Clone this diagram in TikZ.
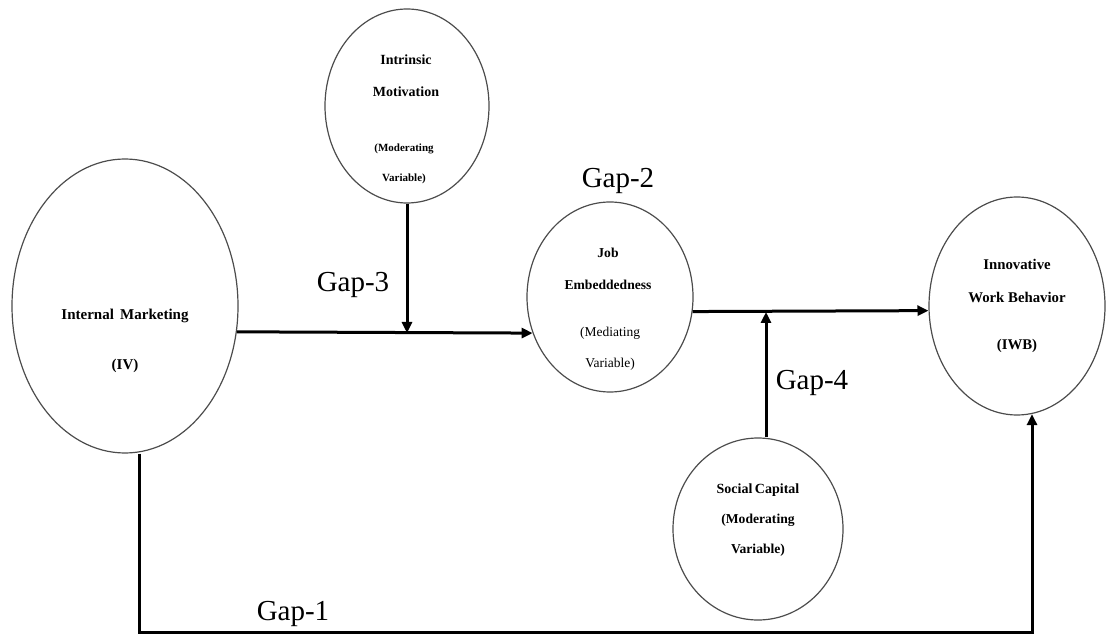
\documentclass[tikz,border=0pt]{standalone}
\usepackage{fontspec}
\setmainfont{Liberation Serif}
\usetikzlibrary{shapes.geometric,arrows.meta}
\tikzset{
  ell/.style={draw=black!70, line width=1.2pt, ellipse, inner sep=0pt},
  arr/.style={line width=3pt, -{Triangle[length=11pt,width=10pt]}},
  gaplbl/.style={anchor=base, inner sep=0pt, font=\fontsize{29}{32}\selectfont},
  txt/.style={anchor=base, inner sep=0pt},
}
\begin{document}
\begin{tikzpicture}[x=1pt,y=-1pt]
\useasboundingbox (0,0) rectangle (1106,636);
% ellipses
\node[ell, minimum width=226pt, minimum height=294pt] (im) at (125,306) {};
\node[ell, minimum width=164pt, minimum height=194pt] (intr) at (407,106) {};
\node[ell, minimum width=166pt, minimum height=190pt] (je) at (610,297) {};
\node[ell, minimum width=176pt, minimum height=218pt] (iwb) at (1017,306) {};
\node[ell, minimum width=170pt, minimum height=182pt] (sc) at (758,529) {};
% texts
\node[txt, font=\bfseries\fontsize{15}{18}\selectfont] (im1) at (125,320) {Internal\, Marketing};
\node[txt, font=\bfseries\fontsize{15}{18}\selectfont] (im2) at (125,370) {(IV)};
\node[txt, font=\bfseries\fontsize{14}{17}\selectfont] (in1) at (406,65) {Intrinsic};
\node[txt, font=\bfseries\fontsize{14}{17}\selectfont] (in2) at (406,97) {Motivation};
\node[txt, font=\bfseries\fontsize{11}{13}\selectfont] (in3) at (404,152) {(Moderating};
\node[txt, font=\bfseries\fontsize{11}{13}\selectfont] (in4) at (404,182) {Variable)};
\node[txt, font=\bfseries\fontsize{13.6}{16}\selectfont] (je1) at (608,258) {Job};
\node[txt, font=\bfseries\fontsize{13.6}{16}\selectfont] (je2) at (608,290) {Embeddedness};
\node[txt, font=\fontsize{13.5}{16}\selectfont] (je3) at (610,337) {(Mediating};
\node[txt, font=\fontsize{13.5}{16}\selectfont] (je4) at (610,367) {Variable)};
\node[txt, font=\bfseries\fontsize{14.8}{17}\selectfont] (iw1) at (1017,270) {Innovative};
\node[txt, font=\bfseries\fontsize{14.8}{17}\selectfont] (iw2) at (1017,303) {Work Behavior};
\node[txt, font=\bfseries\fontsize{14.8}{17}\selectfont] (iw3) at (1017,350) {(IWB)};
\node[txt, font=\bfseries\fontsize{14}{17}\selectfont] (sc1) at (758,493) {Social\kern-1pt\ Capital};
\node[txt, font=\bfseries\fontsize{13.6}{16}\selectfont] (sc2) at (758,523) {(Moderating};
\node[txt, font=\bfseries\fontsize{13.6}{16}\selectfont] (sc3) at (758,553) {Variable)};
% gap labels
\node[gaplbl] (g3) at (353,292) {Gap-3};
\node[gaplbl] (g2) at (618,188) {Gap-2};
\node[gaplbl] (g4) at (812,389) {Gap-4};
\node[gaplbl] (g1) at (293,620) {Gap-1};
% junction coordinates
\coordinate (j1) at (407,333);
\coordinate (j2) at (766,312);
\coordinate (c1) at (139,632);
\coordinate (c2) at (1032,632);
% connectors
\draw[arr] (im.-13.6) -- (je.205);
\draw[arr] (intr.south) -- (j1);
\draw[arr] (je.-10.4) -- (iwb.183.9);
\draw[arr] (j2 |- sc.north) -- (j2);
\draw[arr] (im.south -| c1) -- (c1) -- (c2) -- ([yshift=1.5pt]c2 |- iwb.south);
\end{tikzpicture}
\end{document}
